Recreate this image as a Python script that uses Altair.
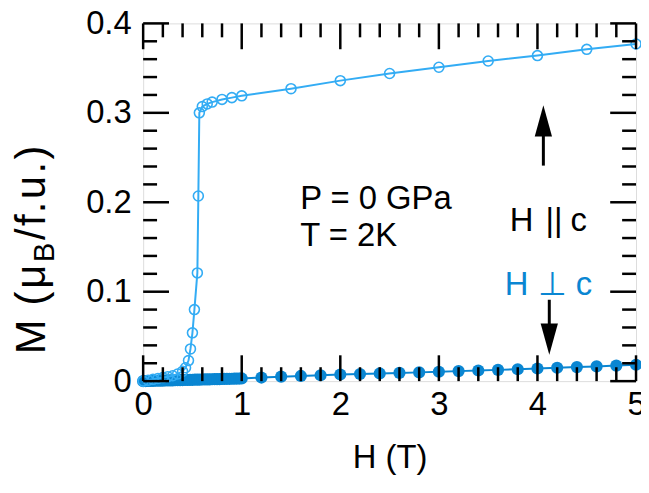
import altair as alt
import pandas as pd

# ---------------- data ----------------
H_par = [0.0, 0.05, 0.1, 0.15, 0.2, 0.25, 0.3, 0.35, 0.4, 0.43, 0.46, 0.48, 0.5, 0.52,
         0.55, 0.56, 0.57, 0.6, 0.65, 0.7, 0.8, 0.9, 1.0, 1.5, 2.0, 2.5, 3.0, 3.5, 4.0, 4.5, 5.0]
M_par = [0.000, 0.001, 0.002, 0.003, 0.004, 0.005, 0.006, 0.008, 0.011, 0.015, 0.023, 0.036, 0.054, 0.080,
         0.121, 0.207, 0.300, 0.307, 0.310, 0.312, 0.315, 0.317, 0.319, 0.327, 0.336, 0.344, 0.351,
         0.358, 0.364, 0.371, 0.377]

H_perp = [0.0, 0.025, 0.05, 0.075, 0.1, 0.125, 0.15, 0.175, 0.2, 0.225, 0.25, 0.275, 0.3, 0.325,
          0.35, 0.375, 0.4, 0.425, 0.45, 0.475, 0.5, 0.525, 0.55, 0.575, 0.6, 0.625, 0.65, 0.675,
          0.7, 0.725, 0.75, 0.775, 0.8, 0.825, 0.85, 0.875, 0.9, 0.925, 0.95, 0.975, 1.0,
          1.2, 1.4, 1.6, 1.8, 2.0, 2.2, 2.4, 2.6, 2.8, 3.0, 3.2, 3.4, 3.6, 3.8, 4.0, 4.2, 4.4,
          4.6, 4.8, 5.0]
M_perp = [0.0000, 0.0001, 0.0002, 0.0002, 0.0003, 0.0004, 0.0005, 0.0005, 0.0006, 0.0007, 0.0008,
          0.0008, 0.0009, 0.0010, 0.0011, 0.0011, 0.0012, 0.0013, 0.0014, 0.0014, 0.0015, 0.0016,
          0.0017, 0.0017, 0.0018, 0.0019, 0.0020, 0.0020, 0.0021, 0.0022, 0.0023, 0.0023, 0.0024,
          0.0025, 0.0026, 0.0026, 0.0027, 0.0028, 0.0029, 0.0029, 0.0030,
          0.0040, 0.0050, 0.0058, 0.0066, 0.0074, 0.0080, 0.0086, 0.0092, 0.0098, 0.0105, 0.0112,
          0.0119, 0.0126, 0.0133, 0.0141, 0.0149, 0.0157, 0.0165, 0.0174, 0.0183]

x_major = [0, 1, 2, 3, 4, 5]
x_minor = [0.2, 0.4, 0.6, 0.8, 1.2, 1.4, 1.6, 1.8, 2.2, 2.4, 2.6, 2.8, 3.2, 3.4, 3.6, 3.8,
           4.2, 4.4, 4.6, 4.8]
y_major = [0.0, 0.1, 0.2, 0.3, 0.4]
y_minor = [0.02, 0.04, 0.06, 0.08, 0.12, 0.14, 0.16, 0.18, 0.22, 0.24, 0.26, 0.28,
           0.32, 0.34, 0.36, 0.38]

# annotation anchors (data coordinates)
up_arrow_H = [4.06]
up_arrow_tail = [0.241]
up_arrow_head = [0.291]
down_arrow_H = [4.12]
down_arrow_tail = [0.091]
down_arrow_head = [0.047]

# y-axis title pieces: text, offset along the text direction, subscript flag
ytitle_chars = ["M", "(", "\u03bc", "B", "/", "f", ".", "u", ".", ")"]
ytitle_offsets = [0, 49, 66, 93, 115, 129, 142, 156, 182, 196]
ytitle_sub = [False, False, False, True, False, False, False, False, False, False]

C_PAR = "#33acf4"
C_PERP = "#0a86d2"
FONT = "Liberation Sans"
W, Ht = 496, 360
FS = 33

par = pd.DataFrame({"H": H_par, "M": M_par})
perp = pd.DataFrame({"H": H_perp, "M": M_perp})

xs = alt.Scale(domain=[0, 5], nice=False, zero=False)
ys = alt.Scale(domain=[0, 0.4], nice=False, zero=False)

X = alt.X("H:Q", scale=xs,
          axis=alt.Axis(values=x_major, title="H (T)", ticks=False, domain=False, grid=False,
                        labelFontSize=FS, titleFontSize=FS, labelFont=FONT, titleFont=FONT,
                        titleFontWeight="normal", labelPadding=8, titlePadding=20, format="d",
                        labelColor="black", titleColor="black", labelFlush=False))
Y = alt.Y("M:Q", scale=ys,
          axis=alt.Axis(values=y_major, title=None, ticks=False, domain=False, grid=False,
                        labelFontSize=FS, labelFont=FONT, labelPadding=12, format="~g",
                        labelColor="black", labelFlush=False))

perp_line = alt.Chart(perp).mark_line(color=C_PERP, strokeWidth=2).encode(x=X, y=Y)
perp_pts = alt.Chart(perp).mark_point(filled=True, color=C_PERP, size=150, opacity=1).encode(x="H:Q", y="M:Q")
par_line = alt.Chart(par).mark_line(color=C_PAR, strokeWidth=2).encode(x="H:Q", y="M:Q")
par_pts = alt.Chart(par).mark_point(filled=False, color=C_PAR, size=100, strokeWidth=1.6, opacity=1).encode(x="H:Q", y="M:Q")

def xticks(vals, length):
    df = pd.DataFrame({"H": vals})
    b = alt.Chart(df).mark_rule(color="black", strokeWidth=2.5).encode(
        x="H:Q", y=alt.value(Ht), y2=alt.value(Ht - length))
    t = alt.Chart(df).mark_rule(color="black", strokeWidth=2.5).encode(
        x="H:Q", y=alt.value(0), y2=alt.value(length))
    return [b, t]

def yticks(vals, length):
    df = pd.DataFrame({"M": vals})
    l = alt.Chart(df).mark_rule(color="black", strokeWidth=2.5).encode(
        y="M:Q", x=alt.value(0), x2=alt.value(length))
    r = alt.Chart(df).mark_rule(color="black", strokeWidth=2.5).encode(
        y="M:Q", x=alt.value(W), x2=alt.value(W - length))
    return [l, r]

ticks = xticks(x_major, 26) + xticks(x_minor, 14) + yticks(y_major, 26) + yticks(y_minor, 14)

# arrows
up_df = pd.DataFrame({"H": up_arrow_H, "M": up_arrow_tail, "M2": up_arrow_head})
down_df = pd.DataFrame({"H": down_arrow_H, "M": down_arrow_tail, "M2": down_arrow_head})
up_shaft = alt.Chart(up_df).mark_rule(color="black", strokeWidth=3).encode(x="H:Q", y="M:Q", y2="M2:Q")
up_head = alt.Chart(up_df).mark_point(shape="M0,-1L0.55,1L-0.55,1Z", filled=True, color="black",
                                      size=1000, opacity=1).encode(x="H:Q", y="M2:Q")
down_shaft = alt.Chart(down_df).mark_rule(color="black", strokeWidth=3).encode(x="H:Q", y="M:Q", y2="M2:Q")
down_head = alt.Chart(down_df).mark_point(shape="M0,1L0.55,-1L-0.55,-1Z", filled=True, color="black",
                                          size=1000, opacity=1).encode(x="H:Q", y="M2:Q")

def label(txt, x, y, color="black", size=FS, align="left", angle=0, dx=0, dy=0):
    return alt.Chart(pd.DataFrame({"t": [txt]})).mark_text(
        text=txt, font=FONT, fontSize=size, color=color, align=align, baseline="alphabetic",
        angle=angle, dx=dx, dy=dy).encode(x=alt.value(x), y=alt.value(y))

texts = [
    label("P = 0 GPa", 158, 187),
    label("T = 2K", 158, 224),
    label("H", 369, 209),
    label("||", 405, 209),
    label("c", 430, 209),
    label("H \u22a5 c", 364, 273, color=C_PERP),
]

# y-axis title with subscript, placed character by character (rotated)
YF = 42
ytitle = []
for ch, off, sub in zip(ytitle_chars, ytitle_offsets, ytitle_sub):
    if sub:
        ytitle.append(label(ch, -99, 333, size=int(YF * 0.7), angle=270, dx=off, dy=YF * 0.22))
    else:
        ytitle.append(label(ch, -99, 333, size=YF, angle=270, dx=off))

chart = alt.layer(perp_line, perp_pts, par_line, par_pts, *ticks,
                  up_shaft, up_head, down_shaft, down_head, *texts, *ytitle).properties(
    width=W, height=Ht,
    autosize=alt.AutoSizeParams(type="none"),
    padding={"left": 136, "top": 14, "right": 5, "bottom": 100},
).configure_view(stroke="black", strokeWidth=3).configure(background="white")

chart.save("out.html", embed_options={"renderer": "svg", "actions": False})
